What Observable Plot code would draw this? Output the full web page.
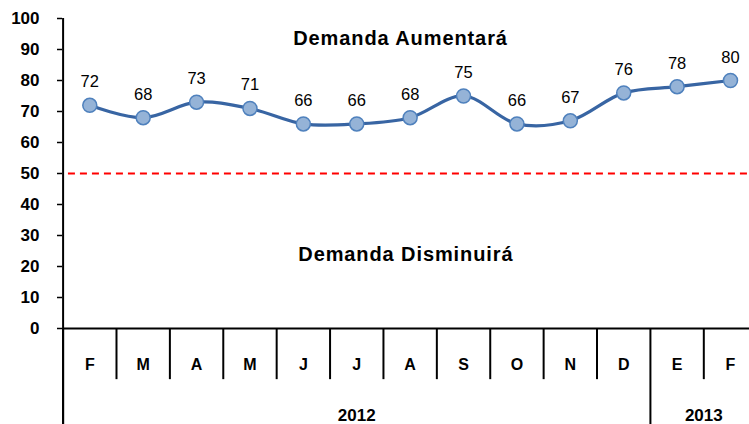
<!DOCTYPE html>
<html>
<head>
<meta charset="utf-8">
<script src="https://cdn.jsdelivr.net/npm/d3@7"></script>
<script src="https://cdn.jsdelivr.net/npm/@observablehq/plot@0.6"></script>
<style>
  html, body { margin: 0; padding: 0; background: #fff; }
  #chart { width: 749px; height: 424px; overflow: hidden; }
</style>
</head>
<body>
<div id="chart"></div>
<script>
// Data
const months = ["F","M","A","M","J","J","A","S","O","N","D","E","F"];
const values = [72, 68, 73, 71, 66, 66, 68, 75, 66, 67, 76, 78, 80];
const years = ["2012", "2013"];
const yearStart = [0, 11];   // month index where each year begins
const yearEnd = [11, 13];
const yTicks = [0,10,20,30,40,50,60,70,80,90,100];
const threshold = 50;
const annotations = [
  {label: "Demanda Aumentará", x: 6.32, y: 91.6},
  {label: "Demanda Disminuirá", x: 6.42, y: 21.9}
];

const data = months.map((m, i) => ({i, m, x: i + 0.5, v: values[i]}));
const seps = d3.range(1, months.length).filter(i => !yearStart.includes(i));
const yearSeps = yearStart.concat([13]);
const yearsData = years.map((y, k) => ({y, x: (yearStart[k] + yearEnd[k]) / 2}));

const MONTH_LEVEL = -16.5;  // lower end of month separators (below axis)
const BOTTOM_LEVEL = -32;   // lower end of year separators

const font = "Liberation Sans, Arial, sans-serif";

const chart = Plot.plot({
  width: 749,
  height: 424,
  marginLeft: 62,
  marginRight: 0,
  marginTop: 0,
  marginBottom: 0,
  style: {fontFamily: font, background: "#fff", color: "#000"},
  x: {type: "linear", domain: [0, 13], range: [62.6, 756.7], axis: null},
  y: {type: "linear", domain: [0, 100], range: [328, 18], axis: null},
  marks: [
    Plot.axisY({ticks: yTicks, tickSize: 5, tickPadding: 18, fontSize: 17, fontWeight: "bold", tickFormat: d => d, strokeWidth: 1.5, anchor: "left"}),
    Plot.ruleY([threshold], {x1: 0.1, x2: 13, stroke: "#ff0000", strokeWidth: 2, strokeDasharray: "7,5"}),
    // axis lines
    Plot.ruleY([0], {x1: 0, x2: 13, stroke: "#000", strokeWidth: 2}),
    Plot.ruleX([0], {y1: BOTTOM_LEVEL, y2: 100, stroke: "#000", strokeWidth: 2}),
    Plot.ruleX(seps, {y1: 0, y2: MONTH_LEVEL, stroke: "#000", strokeWidth: 2}),
    Plot.ruleX(yearSeps, {y1: 0, y2: BOTTOM_LEVEL, stroke: "#000", strokeWidth: 2}),
    // month & year labels
    Plot.text(data, {x: "x", y: MONTH_LEVEL, text: "m", dy: -10, lineAnchor: "bottom", fontSize: 16, fontWeight: "bold", fill: "#000"}),
    Plot.text(yearsData, {x: "x", y: BOTTOM_LEVEL, text: "y", dy: -7, lineAnchor: "bottom", fontSize: 17, fontWeight: "bold", fill: "#000"}),
    // series
    Plot.line(data, {x: "x", y: "v", curve: "catmull-rom", stroke: "#3865a3", strokeWidth: 3.2}),
    Plot.dot(data, {x: "x", y: "v", r: 7, fill: "#95b3d7", stroke: "#4f81bd", strokeWidth: 1.5}),
    Plot.text(data, {x: "x", y: "v", text: d => String(d.v), dy: -18, lineAnchor: "bottom", fontSize: 16.5, fill: "#000"}),
    // annotations
    Plot.text(annotations, {x: "x", y: "y", text: "label", fontSize: 20, fontWeight: "bold", fill: "#000", lineAnchor: "bottom"})
  ]
});
// slight letter spacing on the annotation labels to match the reference's wide glyphs
d3.select(chart).selectAll("text")
  .filter(function() { return annotations.some(a => a.label === this.textContent); })
  .attr("letter-spacing", "0.9px");
document.getElementById("chart").appendChild(chart);
</script>
</body>
</html>
